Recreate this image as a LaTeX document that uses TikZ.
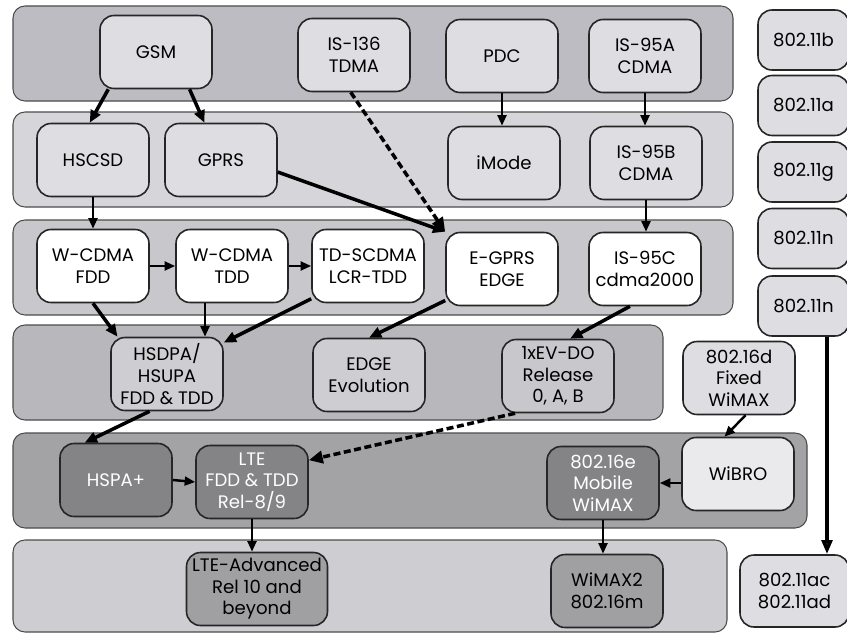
\documentclass[tikz,border=0pt]{standalone}
\usepackage{fontspec}
\setmainfont{Poppins}
\usetikzlibrary{arrows.meta,positioning,calc}

\definecolor{bandA}{RGB}{188,188,194}
\definecolor{bandB}{RGB}{214,214,218}
\definecolor{bandC}{RGB}{200,200,204}
\definecolor{bandD}{RGB}{184,184,188}
\definecolor{bandE}{RGB}{163,163,166}
\definecolor{bandF}{RGB}{206,206,210}
\definecolor{boxlight}{RGB}{222,222,226}
\definecolor{boxpale}{RGB}{234,234,237}
\definecolor{boxmid}{RGB}{160,160,163}
\definecolor{boxdark}{RGB}{132,132,135}

\begin{document}
\begin{tikzpicture}[
          x=0.02cm, y=-0.02cm,
          font=\fontsize{10.3}{12.3}\selectfont,
          band/.style={draw=black!70, line width=0.6pt, rounded corners=0.24cm},
          tech/.style={rectangle, draw=black!85, rounded corners=0.28cm,
              minimum width=2.24cm, minimum height=1.46cm, inner sep=1pt,
              align=center, line width=0.9pt},
          lbox/.style={tech, fill=boxlight},
          wbox/.style={tech, fill=white},
          mbox/.style={tech, fill=boxmid},
          dbox/.style={tech, fill=boxdark, text=white},
          wifi/.style={tech, fill=boxlight, minimum width=1.82cm, minimum height=1.2cm},
          arr/.style={-{Triangle[length=7pt,width=6pt]}, line width=2pt},
          varr/.style={-{Triangle[length=6pt,width=5pt]}, line width=1.4pt},
          darr/.style={-{Triangle[length=8pt,width=7pt]}, line width=2pt, dash pattern=on 4pt off 2pt},
          oarr/.style={-{Triangle[open,fill=white,length=8pt,width=6pt]}, line width=2pt}
      ]
      \useasboundingbox (0,0) rectangle (847,635);
      % generation bands
      \draw[band, fill=bandA] (13,6)   rectangle (733,101);
      \draw[band, fill=bandB] (13,112) rectangle (733,207);
      \draw[band, fill=bandC] (13,220) rectangle (733,315);
      \draw[band, fill=bandD] (13,325) rectangle (663,420);
      \draw[band, fill=bandE] (13,433) rectangle (807,528);
      \draw[band, fill=bandF] (13,540) rectangle (727,632);
      % 2G
      \node[lbox] (gsm)    at (156,52)  {GSM};
      \node[lbox] (is136)  at (354,55)  {IS-136\\TDMA};
      \node[lbox] (pdc)    at (502,56)  {PDC};
      \node[lbox] (is95a)  at (645,56)  {IS-95A\\CDMA};
      % 2.5G
      \node[lbox] (hscsd)  at (93,160)  {HSCSD};
      \node[lbox] (gprs)   at (221,160) {GPRS};
      \node[lbox] (imode)  at (504,163) {iMode};
      \node[lbox] (is95b)  at (646,163) {IS-95B\\CDMA};
      % 3G
      \node[wbox] (wfdd)   at (93,266)  {W-CDMA\\FDD};
      \node[wbox] (wtdd)   at (232,266) {W-CDMA\\TDD};
      \node[wbox] (tdsc)   at (368,266) {TD-SCDMA\\LCR-TDD};
      \node[wbox] (egprs)  at (502,269) {E-GPRS\\EDGE};
      \node[wbox] (is95c)  at (645,269) {IS-95C\\cdma2000};
      % 3.5G
      \node[lbox, fill=bandF] (hsdpa)  at (167,374) {HSDPA/\\HSUPA\\FDD \& TDD};
      \node[lbox, fill=bandF] (edgeev) at (369,375) {EDGE\\Evolution};
      \node[lbox, fill=bandC] (evdo)   at (558,376) {1xEV-DO\\Release\\0, A, B};
      \node[lbox] (w16d)   at (739,378) {802.16d\\Fixed\\WiMAX};
      % 4G
      \node[dbox] (hspap)  at (116,480) {HSPA+};
      \node[dbox] (lte)    at (252,482) {LTE\\FDD \& TDD\\Rel-8/9};
      \node[dbox] (w16e)   at (603,483) {802.16e\\Mobile\\WiMAX};
      \node[lbox, fill=boxpale] (wibro) at (738,474) {WiBRO};
      % beyond
      \node[mbox, minimum width=2.82cm] (lteadv) at (257,589) {LTE-Advanced\\Rel 10 and\\beyond};
      \node[mbox] (wimax2) at (607,591) {WiMAX2\\802.16m};
      % WLAN column
      \node[wifi] (w11b)  at (803.5,40)    {802.11b};
      \node[wifi] (w11a)  at (803.5,105.5) {802.11a};
      \node[wifi] (w11g)  at (803.5,172)   {802.11g};
      \node[wifi] (w11n)  at (803.5,238.5) {802.11n};
      \node[wifi] (w11nb) at (803.5,306)   {802.11n};
      \node[wifi, minimum width=2.18cm, minimum height=1.44cm] (w11ac) at (794.5,591) {802.11ac\\802.11ad};
      % connectors
      \draw[arr] (gsm.-142) -- (hscsd.95);
      \draw[arr] (gsm.-48) -- (gprs.114);
      \draw[darr] (is136.-95) -- (egprs.north west);
      \draw[arr] (gprs.-12) -- (egprs.north west);
      \draw[varr] (pdc.south) -- (pdc.south |- imode.north);
      \draw[varr] (is95a.south) -- (is95a.south |- is95b.north);
      \draw[varr] (hscsd.south) -- (hscsd.south |- wfdd.north);
      \draw[varr] (is95b.south) -- (is95b.south |- is95c.north);
      \draw[varr] (wfdd.east) -- (wtdd.west);
      \draw[varr] (wtdd.east) -- (tdsc.west);
      \draw[arr] (wfdd.south) -- (hsdpa.143);
      \draw[varr] ([xshift=-0.54cm]wtdd.south) -- ([xshift=-0.54cm]wtdd.south |- hsdpa.north);
      \draw[arr] (tdsc.-150) -- (hsdpa.29);
      \draw[arr] (egprs.-151) -- (edgeev.north);
      \draw[arr] (is95c.-112) -- (evdo.72);
      \draw[arr] (hsdpa.-115) -- (hspap.130);
      \draw[darr] (evdo.-139) -- (lte.21);
      \draw[varr] (hspap.east) -- (lte.west);
      \draw[varr] (lte.south) -- (lte.south |- lteadv.north);
      \draw[varr] (w16d.-80) -- (wibro.110);
      \draw[varr] (w16e.east -| wibro.west) -- (w16e.east);
      \draw[varr] (w16e.south) -- (w16e.south |- wimax2.north);
      \draw[oarr] ([xshift=0.47cm]w11nb.south) -- ([xshift=0.47cm]w11nb.south |- w11ac.north);
\end{tikzpicture}
\end{document}
